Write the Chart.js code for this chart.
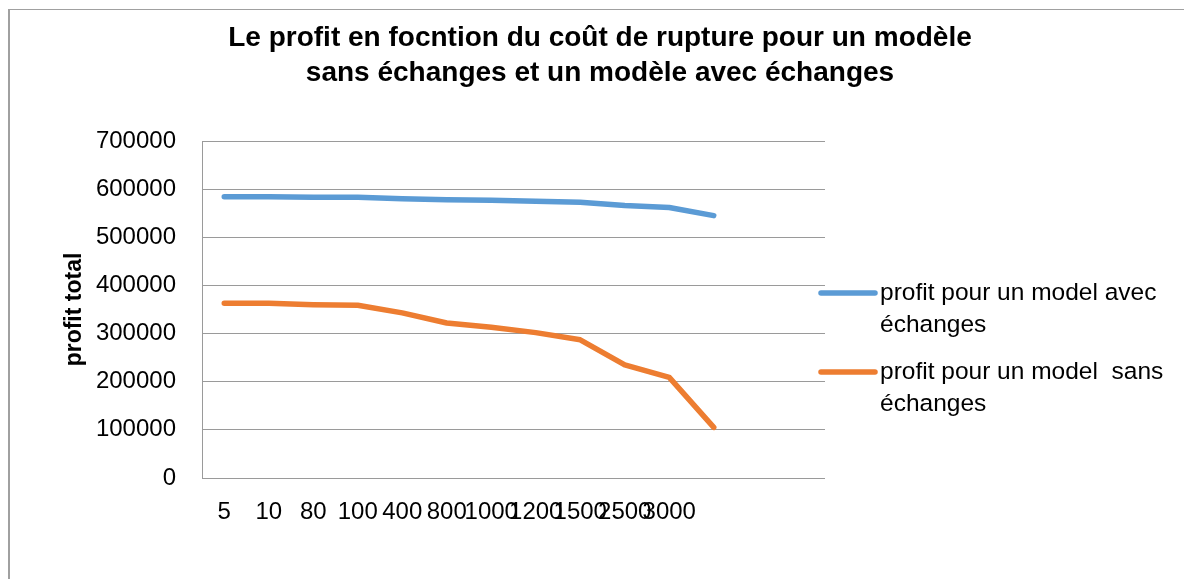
<!DOCTYPE html>
<html><head><meta charset="utf-8">
<script src="https://cdn.jsdelivr.net/npm/chart.js@4.4.0/dist/chart.umd.min.js"></script>
<style>html,body{margin:0;padding:0;background:#fff;}canvas{display:block}</style>
</head><body>
<canvas id="c" width="1184" height="579"></canvas>
<script>
// ---- data ----
const categories = ['5','10','80','100','400','800','1000','1200','1500','2500','3000','','',''];
const seriesNames = ['profit pour un model avec échanges', 'profit pour un model  sans échanges'];
const profitAvec = [584000, 584000, 583000, 583000, 580000, 578000, 577000, 575000, 573000, 566000, 562000, 545000];
const profitSans = [363000, 363000, 360000, 359000, 343000, 322000, 313000, 302000, 287000, 235000, 209000, 105000];
const yMin = 0, yMax = 700000, yStep = 100000;
const chartTitle = ['Le profit en focntion du coût de rupture pour un modèle', 'sans échanges et un modèle avec échanges'];
const yAxisTitle = 'profit total';

const FONT = 'Liberation Sans';
const seriesColors = ['#5B9BD5', '#ED7D31'];

const framePlugin = {
  id: 'frame',
  beforeDraw(chart) {
    const ctx = chart.ctx;
    ctx.save();
    ctx.fillStyle = '#fff';
    ctx.fillRect(0, 0, chart.width, chart.height);
    ctx.strokeStyle = '#a0a0a0';
    ctx.lineWidth = 2;
    ctx.beginPath(); ctx.moveTo(9, chart.height); ctx.lineTo(9, 9); ctx.stroke();
    ctx.lineWidth = 1;
    ctx.beginPath(); ctx.moveTo(8, 9.5); ctx.lineTo(chart.width, 9.5); ctx.stroke();
    ctx.restore();
  }
};

const titlePlugin = {
  id: 'customTitle',
  afterDraw(chart) {
    const ctx = chart.ctx;
    ctx.save();
    ctx.fillStyle = '#000';
    ctx.font = 'bold 28px "' + FONT + '"';
    ctx.textAlign = 'center';
    ctx.textBaseline = 'middle';
    chartTitle.forEach((t, i) => ctx.fillText(t, 600, 38 + i * 35));
    ctx.restore();
  }
};

const legendPlugin = {
  id: 'customLegend',
  afterDraw(chart) {
    const ctx = chart.ctx;
    ctx.save();
    ctx.font = '24.5px "' + FONT + '"';
    ctx.textBaseline = 'middle';
    ctx.textAlign = 'left';
    const maxW = 296;
    let y = 293;
    chart.data.datasets.forEach(ds => {
      const words = ds.label.split(' ');
      const lines = [];
      let cur = '';
      words.forEach((w, k) => {
        const test = k === 0 ? w : cur + ' ' + w;
        if (ctx.measureText(test).width > maxW && cur.trim() !== '') { lines.push(cur); cur = w; }
        else cur = test;
      });
      lines.push(cur);
      ctx.strokeStyle = ds.borderColor;
      ctx.lineWidth = 5.5;
      ctx.lineCap = 'round';
      ctx.beginPath(); ctx.moveTo(821, y); ctx.lineTo(875, y); ctx.stroke();
      ctx.fillStyle = '#000';
      lines.forEach((l, k) => ctx.fillText(l, 880, y + k * 32));
      y += 79;
    });
    ctx.restore();
  }
};

new Chart(document.getElementById('c'), {
  type: 'line',
  data: {
    labels: categories,
    datasets: [
      { label: seriesNames[0], data: profitAvec, borderColor: seriesColors[0], backgroundColor: seriesColors[0] },
      { label: seriesNames[1], data: profitSans, borderColor: seriesColors[1], backgroundColor: seriesColors[1] }
    ]
  },
  options: {
    responsive: false,
    animation: false,
    devicePixelRatio: 1,
    layout: { padding: { top: 141, right: 359, bottom: 41, left: 0 } },
    elements: {
      line: { borderWidth: 5.5, tension: 0, borderCapStyle: 'round', borderJoinStyle: 'round', fill: false },
      point: { radius: 0, hoverRadius: 0 }
    },
    plugins: { legend: { display: false }, title: { display: false }, tooltip: { enabled: false } },
    scales: {
      x: {
        type: 'category',
        offset: true,
        grid: { display: false, drawTicks: false },
        border: { display: false },
        ticks: { autoSkip: false, maxRotation: 0, minRotation: 0, color: '#000', font: { family: FONT, size: 24 }, padding: 20 },
        afterFit(s) { s.height = 60; }
      },
      y: {
        min: yMin, max: yMax,
        ticks: { stepSize: yStep, color: '#000', font: { family: FONT, size: 24 }, padding: 26, callback: v => String(v) },
        grid: { color: '#9a9a9a', lineWidth: 1, drawTicks: false },
        border: { display: true, color: '#9a9a9a', width: 1 },
        title: { display: true, text: yAxisTitle, color: '#000', font: { family: FONT, size: 23, weight: 'bold' }, padding: { top: 61, bottom: 0 } },
        afterFit(s) { s.width = 202; }
      }
    }
  },
  plugins: [framePlugin, titlePlugin, legendPlugin]
});
</script>
</body></html>
